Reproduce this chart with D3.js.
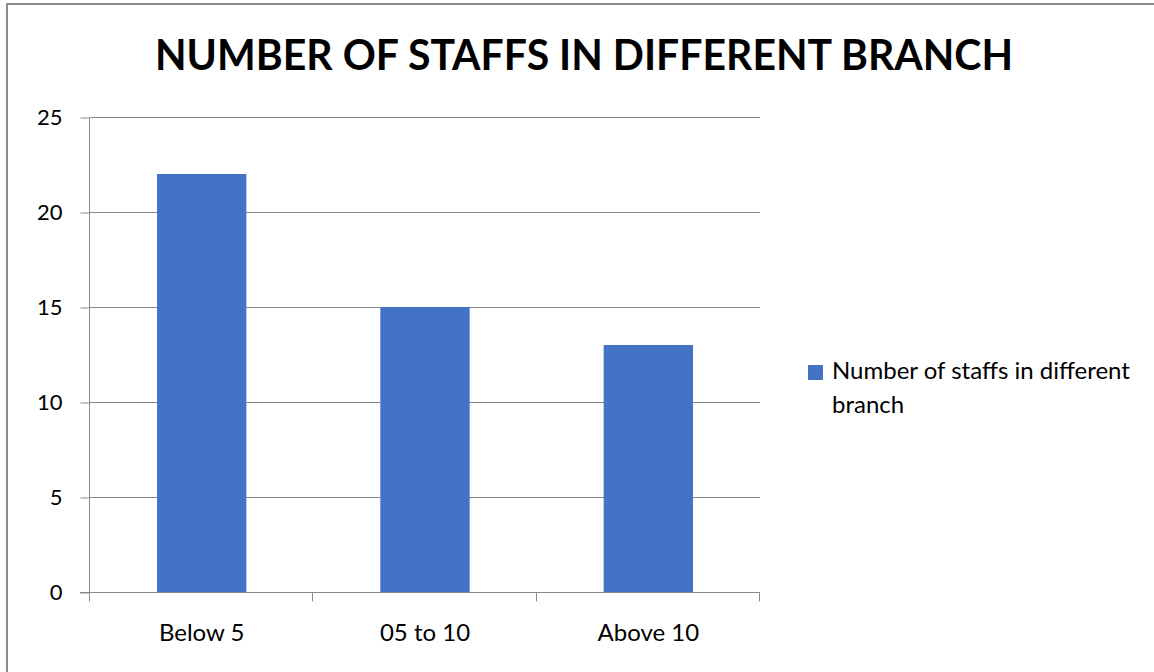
<!DOCTYPE html>
<html>
<head>
<meta charset="utf-8">
<script src="https://cdn.jsdelivr.net/npm/d3@7"></script>
<style>
  html, body { margin: 0; padding: 0; background: #fff; }
  svg { display: block; font-family: Lato, "Open Sans", sans-serif; }
</style>
</head>
<body>
<svg id="chart" width="1154" height="672"></svg>
<script>
// Staff counts per branch size group
const categories = ["Below 5", "05 to 10", "Above 10"];
const staffCounts = [22, 15, 13];
const yTicks = [0, 5, 10, 15, 20, 25];
const chartTitle = "NUMBER OF STAFFS IN DIFFERENT BRANCH";
const seriesName = "Number of staffs in different branch";

const svg = d3.select("#chart");
const W = 1154, H = 672;
const plot = { left: 90, right: 760, top: 117, bottom: 592 };
const barColor = "#4472C4";
const lineColor = "#898989";
const tickSize = 22;
const textSize = 24;

// outer frame (left and top edges visible, the rest runs past the canvas)
svg.append("rect")
  .attr("x", 7).attr("y", 4)
  .attr("width", W + 20).attr("height", H + 20)
  .attr("fill", "#fff")
  .attr("stroke", "#8c8c8c").attr("stroke-width", 2);

const x = d3.scaleBand()
  .domain(categories)
  .range([plot.left, plot.right])
  .paddingInner(0.6)
  .paddingOuter(0.3);

const y = d3.scaleLinear()
  .domain([0, 25])
  .range([plot.bottom, plot.top]);

// horizontal gridlines
svg.append("g")
  .selectAll("line")
  .data(yTicks.filter(t => t > 0))
  .join("line")
  .attr("x1", plot.left).attr("x2", plot.right)
  .attr("y1", d => Math.round(y(d)) + 0.5).attr("y2", d => Math.round(y(d)) + 0.5)
  .attr("stroke", lineColor).attr("stroke-width", 1);

// bars
svg.append("g")
  .selectAll("rect")
  .data(categories.map((c, i) => ({ c, v: staffCounts[i] })))
  .join("rect")
  .attr("x", d => x(d.c))
  .attr("width", x.bandwidth())
  .attr("y", d => y(d.v))
  .attr("height", d => y(0) - y(d.v))
  .attr("fill", barColor);

// y axis
const yAxis = d3.axisLeft(y).tickValues(yTicks).tickSize(9).tickPadding(18);
const gy = svg.append("g")
  .attr("transform", `translate(${plot.left - 0.5},0.5)`)
  .call(yAxis);
gy.selectAll("path, line").attr("stroke", lineColor);
gy.select(".domain").attr("d", `M0,${plot.top}V${plot.bottom}`);
gy.selectAll("text")
  .attr("font-size", tickSize).attr("fill", "#000")
  .attr("font-family", "Lato, sans-serif");

// x axis with ticks at category boundaries
const gx = svg.append("g").attr("transform", `translate(0,${plot.bottom + 0.5})`);
gx.append("line")
  .attr("x1", plot.left - 10).attr("x2", plot.right)
  .attr("stroke", lineColor);
const edges = d3.range(categories.length + 1).map(i => plot.left + (plot.right - plot.left) * i / categories.length);
gx.selectAll("line.tick")
  .data(edges)
  .join("line")
  .attr("class", "tick")
  .attr("x1", d => Math.round(d) - 0.5).attr("x2", d => Math.round(d) - 0.5)
  .attr("y1", 0).attr("y2", 9)
  .attr("stroke", lineColor);
gx.selectAll("text")
  .data(categories)
  .join("text")
  .attr("x", d => x(d) + x.bandwidth() / 2)
  .attr("y", 48)
  .attr("text-anchor", "middle")
  .attr("font-size", textSize)
  .text(d => d);

// title
svg.append("text")
  .attr("x", 584).attr("y", 70)
  .attr("text-anchor", "middle")
  .attr("font-size", 42)
  .attr("font-weight", "bold")
  .attr("textLength", 858)
  .attr("lengthAdjust", "spacingAndGlyphs")
  .text(chartTitle);

// legend
const lg = svg.append("g");
lg.append("rect")
  .attr("x", 808).attr("y", 365)
  .attr("width", 15).attr("height", 15)
  .attr("fill", barColor);
const words = seriesName.split(" ");
const lines = [words.slice(0, 5).join(" "), words.slice(5).join(" ")];
lg.selectAll("text")
  .data(lines)
  .join("text")
  .attr("x", 832)
  .attr("y", (d, i) => 379 + i * 34)
  .attr("font-size", textSize)
  .text(d => d);
</script>
</body>
</html>
